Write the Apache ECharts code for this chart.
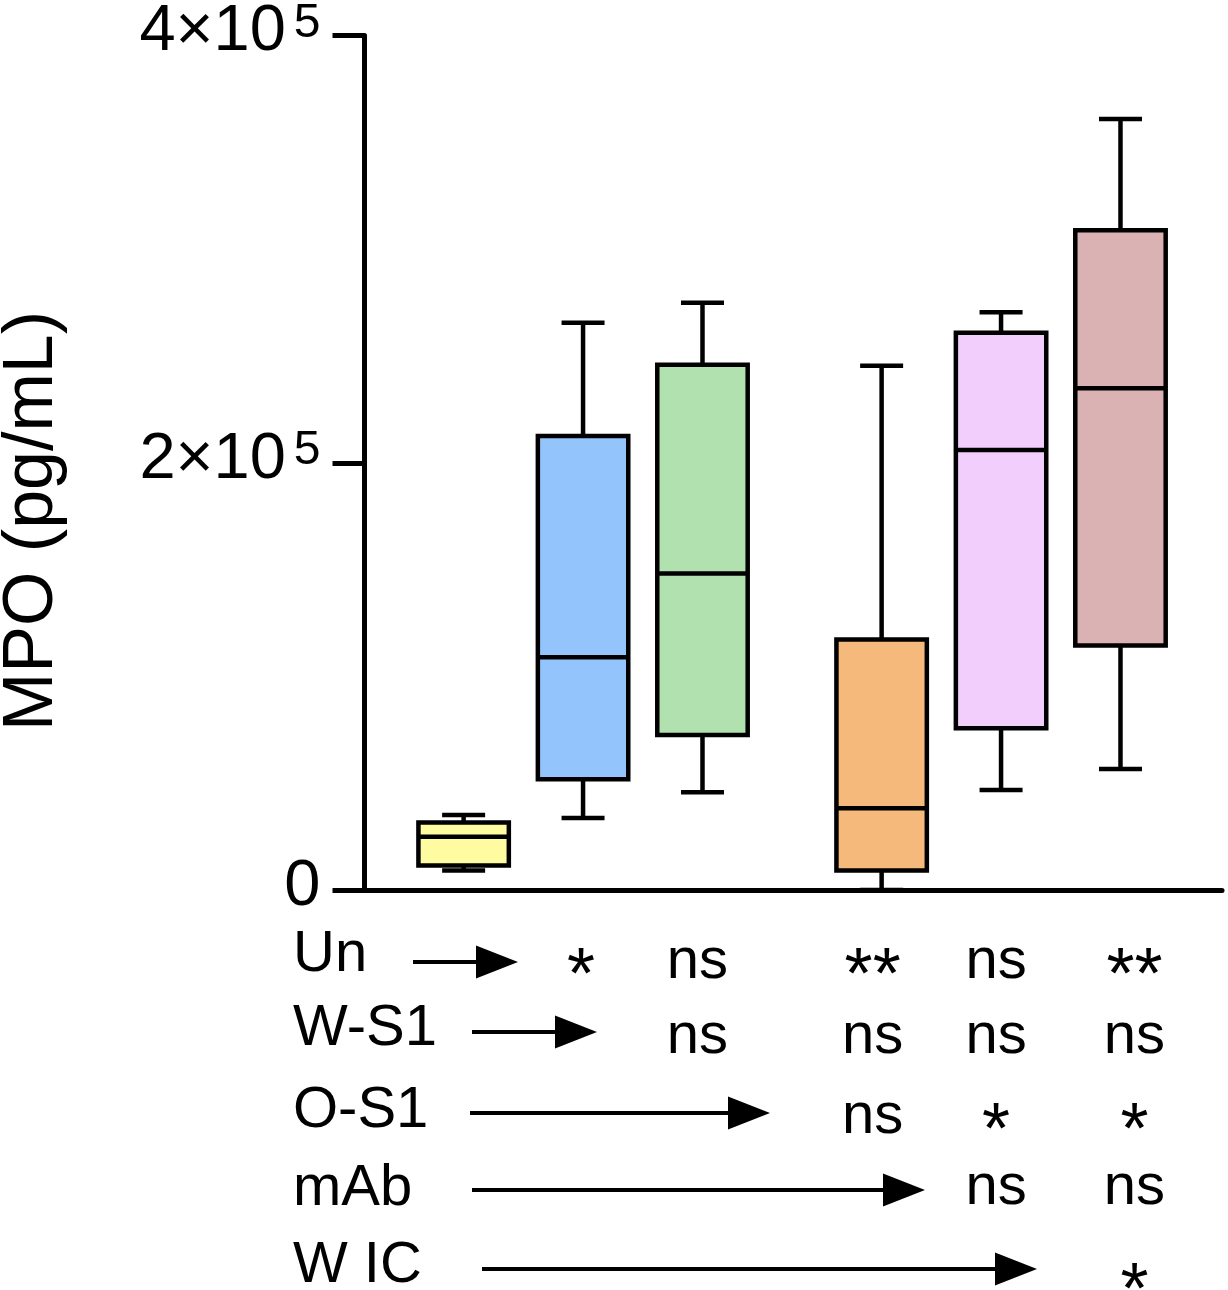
<!DOCTYPE html>
<html lang="en">

<head>
  <meta charset="UTF-8">
  <meta name="viewport" content="width=device-width, initial-scale=1.0">
  <title>MPO</title>
  <style>
    html, body { margin: 0; padding: 0; background: #fff; }
    #main { width: 1228px; height: 1290px; }
  </style>
</head>

<body>
  <div id="main"></div>
</body>
<script src="https://cdn.jsdelivr.net/npm/echarts@6/dist/echarts.min.js"></script>
<script>
  // box values (pg/mL), one entry per group
  var mins    = [9100, 33700, 45800, 0, 46800, 56600];
  var q1s     = [11500, 51900, 72500, 9100, 75700, 114500];
  var medians = [24900, 108900, 148200, 38300, 206000, 234900];
  var q3s     = [31600, 212500, 245900, 117300, 260900, 308800];
  var maxs    = [35100, 265500, 274900, 245400, 270500, 360900];

  var yTicks = [0, 200000, 400000];

  // comparison rows under the plot
  var rowLabels = ['Un', 'W-S1', 'O-S1', 'mAb', 'W IC'];
  var sigRows = [
    ['*', 'ns', '**', 'ns', '**'],
    ['ns', 'ns', 'ns', 'ns'],
    ['ns', '*', '*'],
    ['ns', 'ns'],
    ['*']
  ];

  // layout / style
  var xSlots = [1, 2, 3, 4.5, 5.5, 6.5];
  var boxColors = ['#FFFBA1', '#93C4FB', '#B2E1B0', '#F5B97B', '#F2CEFC', '#DAB2B3'];
  var FONT = '"Liberation Sans", Arial, sans-serif';
  var fs = 58;
  var starFs = 72;

  var boxData = [];
  for (var i = 0; i < xSlots.length; i++) {
    boxData.push([xSlots[i], mins[i], q1s[i], medians[i], q3s[i], maxs[i]]);
  }

  var myChart = echarts.init(document.getElementById('main'));

  var option = {
    animation: false,
    grid: { left: 364.5, right: 6, top: 34.5, bottom: 400 },
    xAxis: {
      type: 'value',
      min: 0.17,
      max: 7.35,
      axisLine: { show: true, onZero: true, lineStyle: { color: '#000', width: 5 } },
      axisTick: { show: false },
      axisLabel: { show: false },
      splitLine: { show: false }
    },
    yAxis: {
      type: 'value',
      min: yTicks[0],
      max: yTicks[yTicks.length - 1],
      interval: yTicks[1] - yTicks[0],
      axisLine: { show: true, onZero: false, lineStyle: { color: '#000', width: 5 } },
      axisTick: { show: true, inside: false, length: 32, lineStyle: { color: '#000', width: 5 } },
      splitLine: { show: false },
      axisLabel: {
        margin: 44,
        formatter: function (v) {
          if (v === 0) return '{n|0}';
          return '{n|' + (v / 100000) + '×10}{s|5}';
        },
        rich: {
          n: { fontSize: 65, fontFamily: FONT, color: '#000', padding: [0, 0, 6, 0] },
          s: { fontSize: 48, fontFamily: FONT, color: '#000', verticalAlign: 'top', padding: [0, 0, 0, 8] }
        }
      }
    },
    series: [{
      type: 'custom',
      clip: false,
      encode: { x: 0, y: [1, 2, 3, 4, 5] },
      data: boxData,
      renderItem: function (params, api) {
        var x = api.value(0);
        var pMin = api.coord([x, api.value(1)]);
        var pQ1 = api.coord([x, api.value(2)]);
        var pMed = api.coord([x, api.value(3)]);
        var pQ3 = api.coord([x, api.value(4)]);
        var pMax = api.coord([x, api.value(5)]);
        var halfBox = api.size([0.757, 0])[0] / 2;
        var halfCap = api.size([0.36, 0])[0] / 2;
        var cx = pMin[0];
        var line = { stroke: '#000', lineWidth: 4.5, lineCap: 'butt' };
        return {
          type: 'group',
          children: [
            { type: 'line', shape: { x1: cx, y1: pMin[1], x2: cx, y2: pQ1[1] }, style: line },
            { type: 'line', shape: { x1: cx, y1: pQ3[1], x2: cx, y2: pMax[1] }, style: line },
            { type: 'line', shape: { x1: cx - halfCap, y1: pMin[1], x2: cx + halfCap, y2: pMin[1] }, style: line },
            { type: 'line', shape: { x1: cx - halfCap, y1: pMax[1], x2: cx + halfCap, y2: pMax[1] }, style: line },
            {
              type: 'rect',
              shape: { x: cx - halfBox, y: pQ3[1], width: halfBox * 2, height: pQ1[1] - pQ3[1] },
              style: { fill: boxColors[params.dataIndex], stroke: '#000', lineWidth: 4.5 }
            },
            { type: 'line', shape: { x1: cx - halfBox, y1: pMed[1], x2: cx + halfBox, y2: pMed[1] }, style: line }
          ]
        };
      }
    }]
  };
  myChart.setOption(option);

  // annotations under the axis
  var rowY = [955, 1029, 1111, 1189, 1266];
  var sigY = [962, 1037, 1117, 1188, 1277];
  var arrows = [[413, 518, 962], [472, 597, 1032], [470, 770, 1113], [472, 925, 1190], [482, 1037, 1269]];
  var colNudge = [0, -2, -5, -9, -5, 14];

  var graphics = [];
  graphics.push({
    type: 'text',
    x: 33,
    y: 521,
    rotation: Math.PI / 2,
    style: { text: 'MPO (pg/mL)', fontSize: 70, fontFamily: FONT, fill: '#000', align: 'center', verticalAlign: 'middle' }
  });

  for (var r = 0; r < rowLabels.length; r++) {
    graphics.push({
      type: 'text',
      x: 293,
      y: rowY[r],
      style: { text: rowLabels[r], fontSize: fs, fontFamily: FONT, fill: '#000', align: 'left', verticalAlign: 'middle' }
    });
    var a = arrows[r];
    var head = 42;
    graphics.push({
      type: 'line',
      shape: { x1: a[0], y1: a[2], x2: a[1] - head + 2, y2: a[2] },
      style: { stroke: '#000', lineWidth: 4 }
    });
    graphics.push({
      type: 'polygon',
      shape: { points: [[a[1] - head, a[2] - 16.5], [a[1], a[2]], [a[1] - head, a[2] + 16.5]] },
      style: { fill: '#000' }
    });
    for (var k = 0; k < sigRows[r].length; k++) {
      var col = r + 1 + k;
      var px = myChart.convertToPixel({ xAxisIndex: 0 }, xSlots[col]) + colNudge[col];
      var s = sigRows[r][k];
      var isStar = s.charAt(0) === '*';
      var size = isStar ? starFs : fs;
      var ty = isStar ? sigY[r] + 0.226 * size : sigY[r];
      graphics.push({
        type: 'text',
        x: px,
        y: ty,
        style: { text: s, fontSize: size, fontFamily: FONT, fill: '#000', align: 'center', verticalAlign: 'middle' }
      });
    }
  }

  myChart.setOption({ graphic: graphics });
</script>

</html>
